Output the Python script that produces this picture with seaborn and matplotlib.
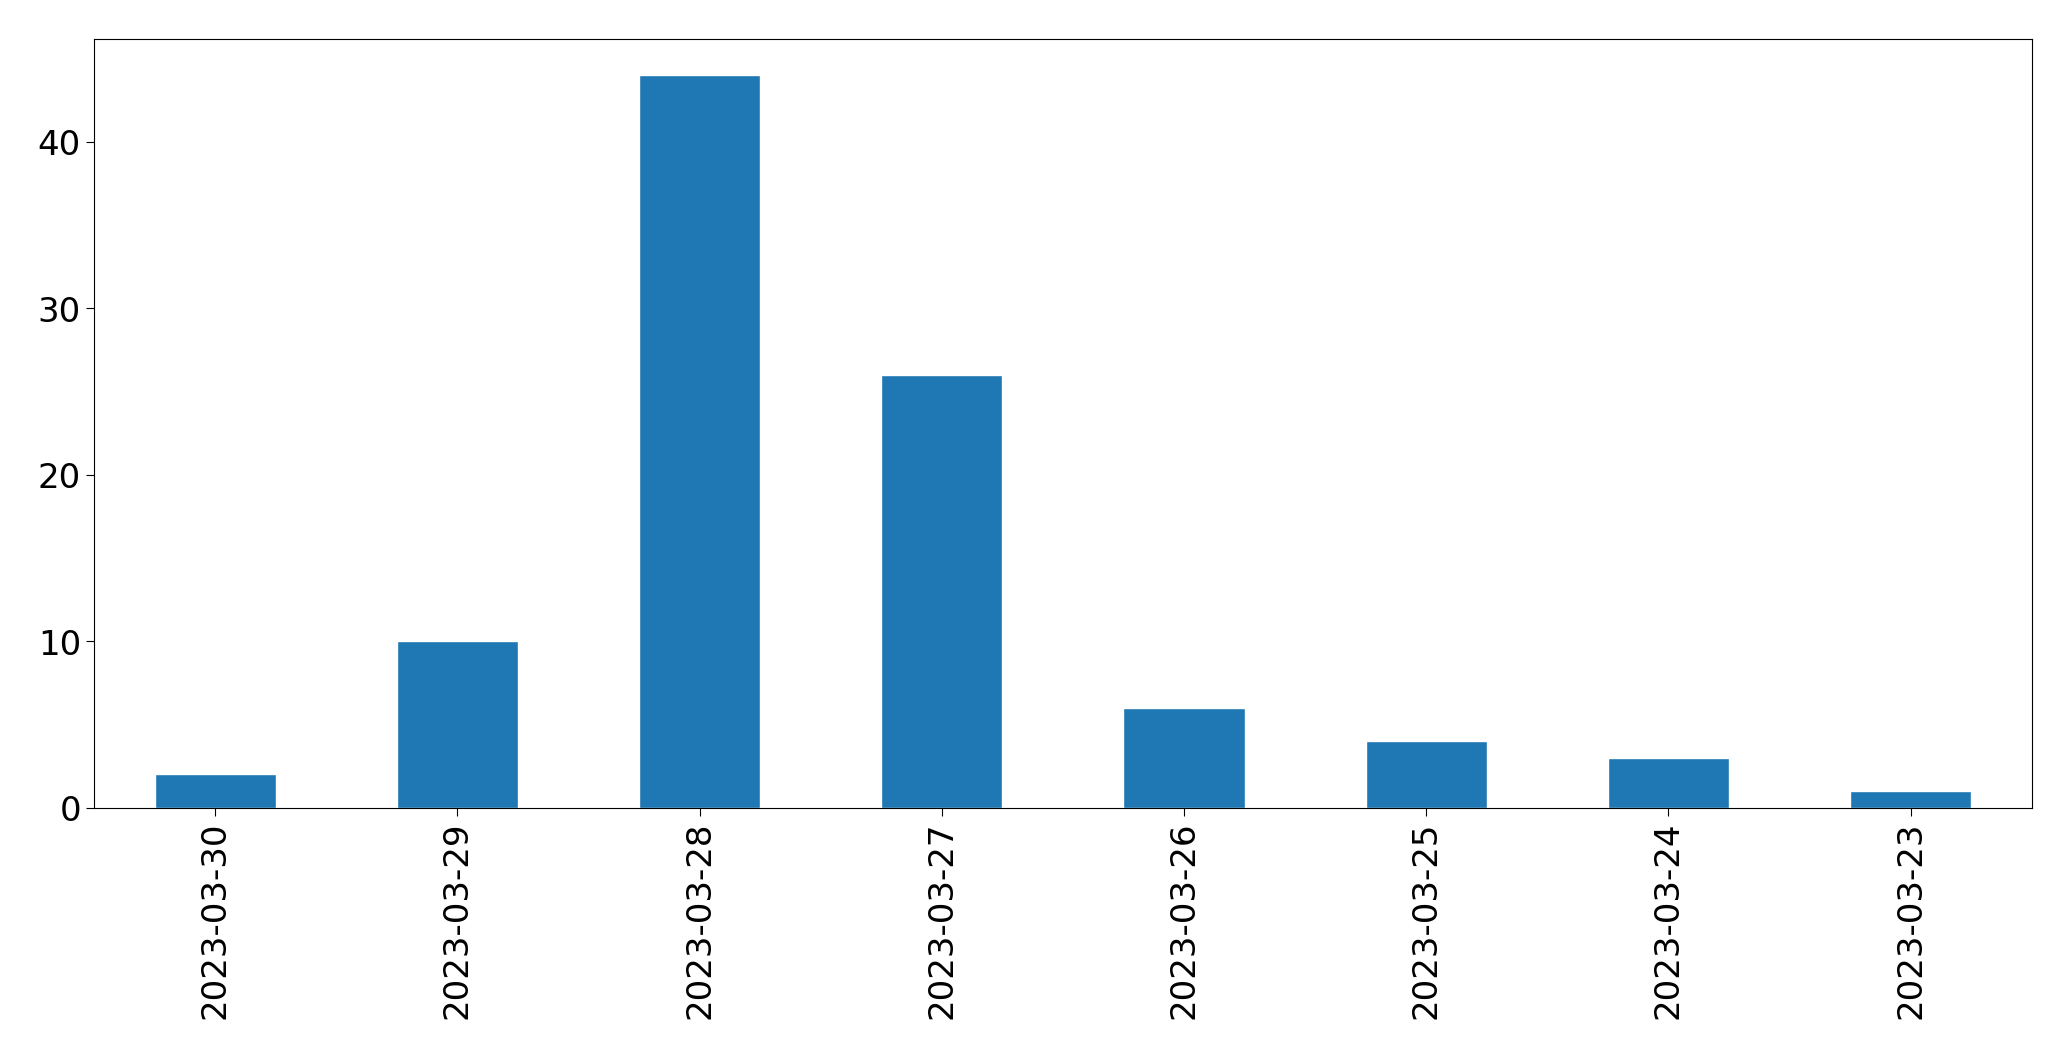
import pandas as pd
import matplotlib
matplotlib.use("Agg")
import matplotlib.pyplot as plt
import seaborn as sns

# Data
dates = ["2023-03-30", "2023-03-29", "2023-03-28", "2023-03-27",
         "2023-03-26", "2023-03-25", "2023-03-24", "2023-03-23"]
counts = [2, 10, 44, 26, 6, 4, 3, 1]

df = pd.DataFrame({"date": dates, "count": counts})

sns.set_style("ticks")
plt.rcParams["font.family"] = ["DejaVu Sans"]

fig, ax = plt.subplots(figsize=(20.71, 10.605), dpi=100)
sns.barplot(data=df, x="date", y="count", color="#1f77b4", saturation=1,
            width=0.5, ax=ax)

ax.set_xlabel("")
ax.set_ylabel("")
ax.tick_params(axis="both", labelsize=24.5, length=6, colors="black")
ax.tick_params(axis="x", labelrotation=90)
ax.set_xlim(-0.5, len(dates) - 0.5)
for s in ax.spines.values():
    s.set_visible(True)
    s.set_color("black")

fig.subplots_adjust(left=0.0455, right=0.981, top=0.963, bottom=0.238)
fig.savefig("out.png", dpi=100)
